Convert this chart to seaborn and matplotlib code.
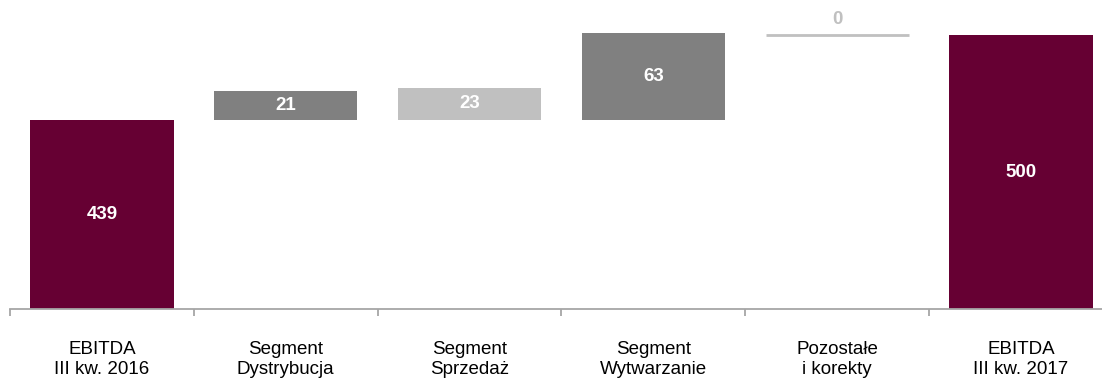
import numpy as np
import pandas as pd
import matplotlib
matplotlib.use("Agg")
import matplotlib.pyplot as plt
from matplotlib.ticker import FixedLocator
import seaborn as sns

# ---- data ----
categories = ["EBITDA\nIII kw. 2016", "Segment\nDystrybucja", "Segment\nSprzedaż",
              "Segment\nWytwarzanie", "Pozostałe\ni korekty", "EBITDA\nIII kw. 2017"]
values = [439, 21, 23, 63, 0, 500]
bar_bottoms = [0, 439, 439, 439, 500, 0]
bar_colors = ["#660033", "#808080", "#c0c0c0", "#808080", "#c0c0c0", "#660033"]

sns.set_theme(style="white")
plt.rcParams["font.family"] = ["Liberation Sans", "DejaVu Sans"]

df = pd.DataFrame({"cat": categories, "value": values, "bottom": bar_bottoms})

fig = plt.figure(figsize=(11.02, 3.81), dpi=100)
ax = fig.add_axes([10 / 1102, 72 / 381, 1103 / 1102, 309 / 381])

sns.barplot(data=df, x="cat", y="value", bottom=df["bottom"].values, width=0.78,
            color="#808080", ax=ax, saturation=1)

# broken (piecewise linear) value axis, as in the reference
B, s = 400.0, 1.38
a = (189.5 - 39 * s) / B
def fwd(v):
    v = np.asarray(v, dtype=float)
    return np.where(v <= B, v * a, B * a + (v - B) * s)
def inv(p):
    p = np.asarray(p, dtype=float)
    return np.where(p <= B * a, p / a, B + (p - B * a) / s)
ax.set_yscale("function", functions=(fwd, inv))
ax.set_ylim(0, float(inv(309)))
ax.set_xlim(-0.5, len(categories) - 0.5)

for patch, col, val in zip(ax.patches, bar_colors, values):
    patch.set_facecolor(col)
    if val == 0:
        patch.set_edgecolor(col)
        patch.set_linewidth(2)
    else:
        patch.set_edgecolor("none")

# value labels
for i, (patch, val) in enumerate(zip(ax.patches, values)):
    xc = patch.get_x() + patch.get_width() / 2
    b = patch.get_y()
    t = b + patch.get_height()
    if val == 0:
        ax.annotate(f"{val}", (xc, t), xytext=(0, 5), textcoords="offset points",
                    ha="center", va="bottom", fontsize=13.5, fontweight="bold",
                    color="#c0c0c0")
    else:
        ym = float(inv((fwd(b) + fwd(t)) / 2))
        ax.text(xc, ym, f"{val}", ha="center", va="center", fontsize=13.5,
                fontweight="bold", color="white")

# axes styling
for side in ["top", "right", "left"]:
    ax.spines[side].set_visible(False)
ax.spines["bottom"].set_color("#a6a6a6")
ax.spines["bottom"].set_linewidth(1.3)
ax.set_yticks([])
ax.set_xlabel("")
ax.set_ylabel("")
ax.xaxis.set_minor_locator(FixedLocator(np.arange(-0.5, len(categories), 1.0)))
ax.tick_params(axis="x", which="minor", length=5, width=1.3, color="#a6a6a6",
               direction="out", bottom=True)
ax.tick_params(axis="x", which="major", length=0, pad=23, labelsize=13.5,
               labelcolor="#000000")
for lab in ax.get_xticklabels():
    lab.set_linespacing(1.2)

fig.savefig("out.png", dpi=100)
